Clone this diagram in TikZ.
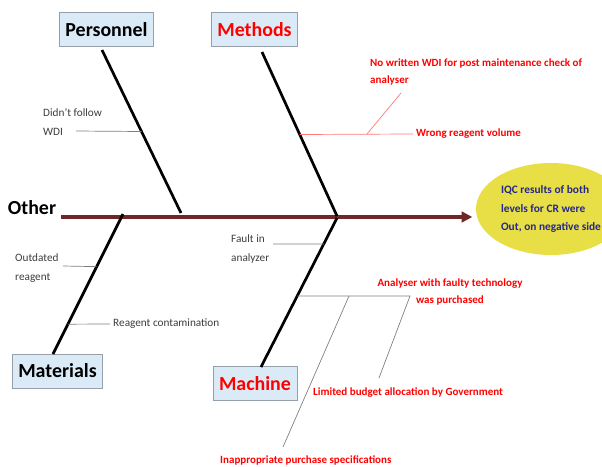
\documentclass[tikz,border=0pt]{standalone}
\usepackage{fontspec}
\setmainfont{Carlito}
\usetikzlibrary{arrows.meta,calc,positioning,shapes.geometric}
\definecolor{boxblue}{RGB}{218,235,247}
\definecolor{boxedge}{RGB}{150,160,170}
\definecolor{spine}{RGB}{110,38,38}
\definecolor{iqcblue}{RGB}{35,40,140}
\definecolor{iqcyellow}{RGB}{232,222,70}
\definecolor{causegray}{RGB}{60,60,60}
\definecolor{linered}{RGB}{255,120,120}

\begin{document}
\begin{tikzpicture}[x=0.03cm,y=-0.03cm,
  cat node/.style={draw=boxedge,fill=boxblue,inner xsep=5pt,minimum height=1.02cm,
    font=\fontsize{17}{19}\selectfont\bfseries},
  bone/.style={line width=2.3pt},
  cause text/.style={align=left,text=causegray,inner sep=0pt,
    font=\fontsize{9.6}{16}\selectfont},
  red text/.style={align=left,text=red,inner sep=0pt,
    font=\fontsize{9.4}{15}\selectfont\bfseries},
  cause line/.style={draw=gray,line width=0.6pt},
  red line/.style={draw=linered,line width=0.6pt}]

\useasboundingbox (0,0) rectangle (602,467);

% head and spine
\node [ellipse,fill=iqcyellow,inner sep=0pt,minimum width=4.5cm,minimum height=2.76cm,
  align=left,text=iqcblue,font=\fontsize{9.7}{16}\selectfont\bfseries] (iqc) at (551,209)
  {IQC results of both\\levels for CR were\\Out, on negative side};
\node [inner sep=0pt,font=\fontsize{17}{19}\selectfont\bfseries] (other) at (32,208) {Other};
\coordinate (spine start) at (61,217);
\draw [spine,line width=3pt,-{Triangle[length=9pt,width=9pt]},shorten >=3pt]
  (spine start) -- (spine start -| iqc.west);

% categories
\node [cat node] (personnel) at (106.5,29.5) {Personnel};
\node [cat node,text=red] (methods) at (254.5,29.5) {Methods};
\node [cat node] (materials) at (57.5,371) {Materials};
\node [cat node,text=red] (machine) at (255,383.5) {Machine};

\coordinate (per top) at (102,50);   \coordinate (per end) at (181,213);
\coordinate (met top) at (262,52);   \coordinate (met end) at (337,216);
\coordinate (mat top) at (53,354);   \coordinate (mat end) at (123,214);
\coordinate (mac top) at (261,367);  \coordinate (mac end) at (337,218);
\draw [bone] (per top) -- (per end);
\draw [bone] (met top) -- (met end);
\draw [bone] (mat top) -- (mat end);
\draw [bone] (mac top) -- (mac end);

% personnel
\node [cause text,anchor=west] (follow) at (43,122) {Didn't follow\\WDI};
\coordinate (follow end) at (76,131);
\path [cause line] (follow end) -- ($(per top)!0.5!(per end)$);

% methods
\coordinate (volume at) at ($(met top)!0.503!(met end)$);
\coordinate (volume end) at (413,134);
\coordinate (check at) at (367,134);
\coordinate (check end) at (401,93);
\node [red text,anchor=west] (volume) at (416,134) {Wrong reagent volume};
\node [red text,anchor=west] (check) at (370,72)
  {No written WDI for post maintenance check of\\analyser};
\path [red line] (volume at) -- (volume end);
\path [red line] (check at) -- (check end);

% materials
\node [cause text,anchor=west] (outdated) at (15,268) {Outdated\\reagent};
\coordinate (outdated end) at (63,266);
\path [cause line] (outdated end) -- ($(mat end)!0.376!(mat top)$);
\coordinate (contam end) at (110,324);
\node [cause text,anchor=west] (contam) at (113,324) {Reagent contamination};
\path [cause line] ($(mat end)!0.787!(mat top)$) -- (contam end);

% machine
\node [cause text,anchor=west] (fault) at (231,249) {Fault in\\analyzer};
\coordinate (fault end) at (273,244);
\path [cause line] (fault end) -- ($(mac end)!0.174!(mac top)$);
\coordinate (tech at) at ($(mac end)!0.523!(mac top)$);
\coordinate (tech end) at (410,296);
\coordinate (spec at) at (349,296);
\coordinate (budget end) at (379,378);
\coordinate (spec end) at (283,447);
\node [red text,align=center] (tech) at (450,292) {Analyser with faulty technology\\was purchased};
\node [red text,anchor=west] (budget) at (313,393) {Limited budget allocation by Government};
\node [red text,anchor=west] (spec) at (220,460) {Inappropriate purchase specifications};
\path [cause line] (tech at) -- (tech end) -- (budget end);
\path [cause line] (spec at) -- (spec end);

\end{tikzpicture}
\end{document}
